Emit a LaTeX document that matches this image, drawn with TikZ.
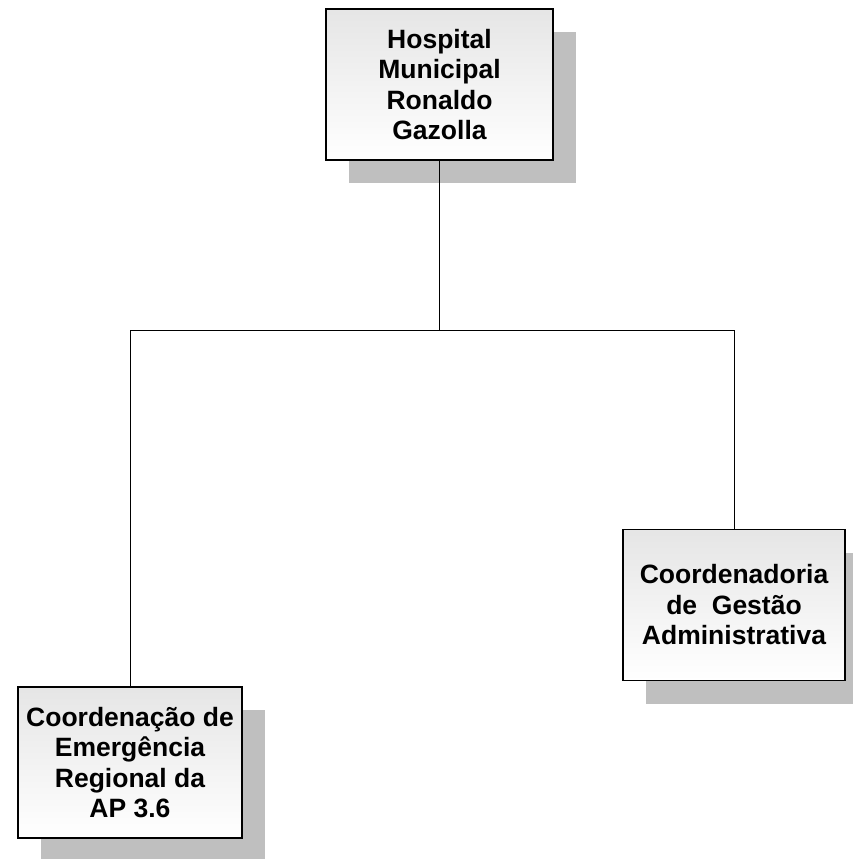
\documentclass[tikz,border=0pt]{standalone}
\usepackage{fontspec}
\setmainfont{Liberation Sans}
\usetikzlibrary{shadows}

\begin{document}
\begin{tikzpicture}[x=1pt,y=-1pt,
  orgbox/.style={draw=black,line width=1.6pt,top color=gray!20,bottom color=white,
    minimum width=#1,minimum height=151pt,align=center,inner sep=0pt,
    font=\fontsize{26.5}{30.5}\selectfont\bfseries,
    drop shadow={shadow xshift=23pt,shadow yshift=-23pt,fill=black!25,opacity=1}},
  link/.style={draw=black,line width=0.9pt}]
  \useasboundingbox (0,0) rectangle (852,859);
  \node[orgbox=227pt] (hosp) at (439.5,84.5) {Hospital\\Municipal\\Ronaldo\\Gazolla};
  \node[orgbox=222pt] (adm) at (734,605) {Coordenadoria\\de\ \ Gestão\\Administrativa};
  \node[orgbox=224pt] (emerg) at (130,762.5) {Coordenação de\\Emergência\\Regional da\\AP 3.6};
  \coordinate (bus) at (0,330);
  \draw[link] (hosp.south) -- (hosp.south |- bus);
  \draw[link] (emerg.north) -- (emerg.north |- bus) -- (adm.north |- bus) -- (adm.north);
\end{tikzpicture}
\end{document}
